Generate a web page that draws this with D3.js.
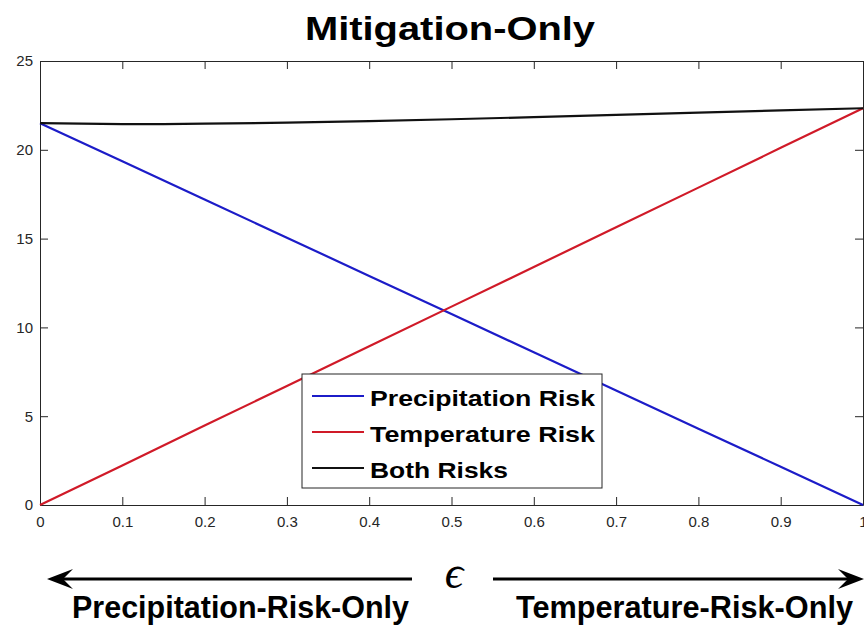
<!DOCTYPE html>
<html>
<head>
<meta charset="utf-8">
<script src="https://cdn.jsdelivr.net/npm/d3@7"></script>
<style>
    body { margin: 0; background: #fff; }
    svg { display: block; }
</style>
</head>
<body>
<svg id="chart" width="864" height="633" xmlns="http://www.w3.org/2000/svg"></svg>
<script>
// data
const epsilon = [0, 0.1, 0.2, 0.3, 0.4, 0.5, 0.6, 0.7, 0.8, 0.9, 1];
const precipRisk = [21.5, 19.35, 17.2, 15.05, 12.9, 10.75, 8.6, 6.45, 4.3, 2.15, 0];
const tempRisk = [0, 2.23, 4.47, 6.7, 8.94, 11.17, 13.4, 15.64, 17.87, 20.11, 22.34];
const bothEps = [0, 0.05, 0.1, 0.15, 0.2, 0.3, 0.4, 0.5, 0.6, 0.7, 0.8, 0.9, 1];
const bothRisk = [21.5, 21.47, 21.45, 21.45, 21.47, 21.53, 21.62, 21.72, 21.84, 21.97, 22.09, 22.22, 22.34];
const xTicks = [0, 0.1, 0.2, 0.3, 0.4, 0.5, 0.6, 0.7, 0.8, 0.9, 1];
const xTickLabels = ["0", "0.1", "0.2", "0.3", "0.4", "0.5", "0.6", "0.7", "0.8", "0.9", "1"];
const yTicks = [0, 5, 10, 15, 20, 25];
const yTickLabels = ["0", "5", "10", "15", "20", "25"];
const seriesNames = ["Precipitation Risk", "Temperature Risk", "Both Risks"];
const seriesColors = ["#1c1cc8", "#d01a28", "#111111"];

// layout
const plotLeft = 40, plotRight = 863, plotTop = 61, plotBottom = 505;
const axisColor = "#262626";

const svg = d3.select("#chart");
const x = d3.scaleLinear().domain([0, 1]).range([plotLeft, plotRight]);
const y = d3.scaleLinear().domain([0, 25]).range([plotBottom, plotTop]);

// title
svg.append("text")
    .attr("x", 450).attr("y", 40)
    .attr("text-anchor", "middle")
    .attr("font-family", "Liberation Sans, Arial, sans-serif")
    .attr("font-weight", "bold")
    .attr("font-size", 33)
    .attr("textLength", 290)
    .attr("lengthAdjust", "spacingAndGlyphs")
    .attr("fill", "#000")
    .text("Mitigation-Only");

// plot background
svg.append("rect")
    .attr("x", plotLeft).attr("y", plotTop)
    .attr("width", plotRight - plotLeft).attr("height", plotBottom - plotTop)
    .attr("fill", "#fff");

// axes with inward ticks, box style
function styleAxis(g) {
    g.select(".domain").attr("stroke", axisColor).attr("stroke-width", 1);
    g.selectAll(".tick line").attr("stroke", axisColor);
    g.selectAll("text")
        .attr("fill", axisColor)
        .attr("font-family", "Liberation Sans, Arial, sans-serif")
        .attr("font-size", 15);
}
svg.append("g")
    .attr("transform", `translate(0,${plotBottom})`)
    .call(d3.axisBottom(x).tickValues(xTicks).tickFormat((d, i) => xTickLabels[i])
        .tickSizeInner(-8).tickSizeOuter(0).tickPadding(11))
    .call(styleAxis);
svg.append("g")
    .attr("transform", `translate(0,${plotTop})`)
    .call(d3.axisTop(x).tickValues(xTicks).tickFormat("")
        .tickSizeInner(-8).tickSizeOuter(0))
    .call(styleAxis);
svg.append("g")
    .attr("transform", `translate(${plotLeft},0)`)
    .call(d3.axisLeft(y).tickValues(yTicks).tickFormat((d, i) => yTickLabels[i])
        .tickSizeInner(-8).tickSizeOuter(0).tickPadding(7))
    .call(styleAxis);
svg.append("g")
    .attr("transform", `translate(${plotRight},0)`)
    .call(d3.axisRight(y).tickValues(yTicks).tickFormat("")
        .tickSizeInner(-8).tickSizeOuter(0))
    .call(styleAxis);

// lines
const line = d3.line().x(d => x(d[0])).y(d => y(d[1]));
const series = [
    d3.zip(epsilon, precipRisk),
    d3.zip(epsilon, tempRisk),
    d3.zip(bothEps, bothRisk)
];
svg.append("g").selectAll("path")
    .data(series)
    .join("path")
    .attr("d", line)
    .attr("fill", "none")
    .attr("stroke", (d, i) => seriesColors[i])
    .attr("stroke-width", 2.2)
    .attr("stroke-linejoin", "round");

// legend
const legend = svg.append("g").attr("transform", "translate(302,374)");
legend.append("rect")
    .attr("width", 300).attr("height", 114)
    .attr("fill", "#fff")
    .attr("stroke", axisColor).attr("stroke-width", 1);
const legendWidths = [225, 225, 138];
const item = legend.selectAll("g.item")
    .data(seriesNames)
    .join("g")
    .attr("class", "item")
    .attr("transform", (d, i) => `translate(0,${22 + i * 36})`);
item.append("line")
    .attr("x1", 10).attr("x2", 62)
    .attr("stroke", (d, i) => seriesColors[i])
    .attr("stroke-width", 2.2);
item.append("text")
    .attr("x", 68).attr("y", 10)
    .attr("font-family", "Liberation Sans, Arial, sans-serif")
    .attr("font-weight", "bold")
    .attr("font-size", 22)
    .attr("textLength", (d, i) => legendWidths[i])
    .attr("lengthAdjust", "spacingAndGlyphs")
    .attr("fill", "#000")
    .text(d => d);

// direction arrows under the axis
const arrowY = 579;
function arrowHead(tipX, dir) {
    // dir = -1 points left, 1 points right
    const b = tipX - dir * 26, n = tipX - dir * 16;
    return `M${tipX},${arrowY} L${b},${arrowY - 10} L${n},${arrowY} L${b},${arrowY + 10} Z`;
}
svg.append("line")
    .attr("x1", 60).attr("x2", 412)
    .attr("y1", arrowY).attr("y2", arrowY)
    .attr("stroke", "#000").attr("stroke-width", 3.2);
svg.append("path").attr("d", arrowHead(47, -1)).attr("fill", "#000");
svg.append("line")
    .attr("x1", 493).attr("x2", 850)
    .attr("y1", arrowY).attr("y2", arrowY)
    .attr("stroke", "#000").attr("stroke-width", 3.2);
svg.append("path").attr("d", arrowHead(864, 1)).attr("fill", "#000");

svg.append("text")
    .attr("x", 454).attr("y", 588)
    .attr("text-anchor", "middle")
    .attr("font-family", "Liberation Serif, DejaVu Serif, serif")
    .attr("font-style", "italic")
    .attr("font-size", 46)
    .attr("fill", "#000")
    .text("\u03F5");

const sideLabels = [
    {text: "Precipitation-Risk-Only", x: 72, w: 337},
    {text: "Temperature-Risk-Only", x: 516, w: 337}
];
svg.append("g").selectAll("text")
    .data(sideLabels)
    .join("text")
    .attr("x", d => d.x).attr("y", 618)
    .attr("font-family", "Liberation Sans Narrow, Arial Narrow, Liberation Sans, sans-serif")
    .attr("font-weight", "bold")
    .attr("font-size", 32)
    .attr("textLength", d => d.w)
    .attr("lengthAdjust", "spacingAndGlyphs")
    .attr("fill", "#000")
    .text(d => d.text);
</script>
</body>
</html>
